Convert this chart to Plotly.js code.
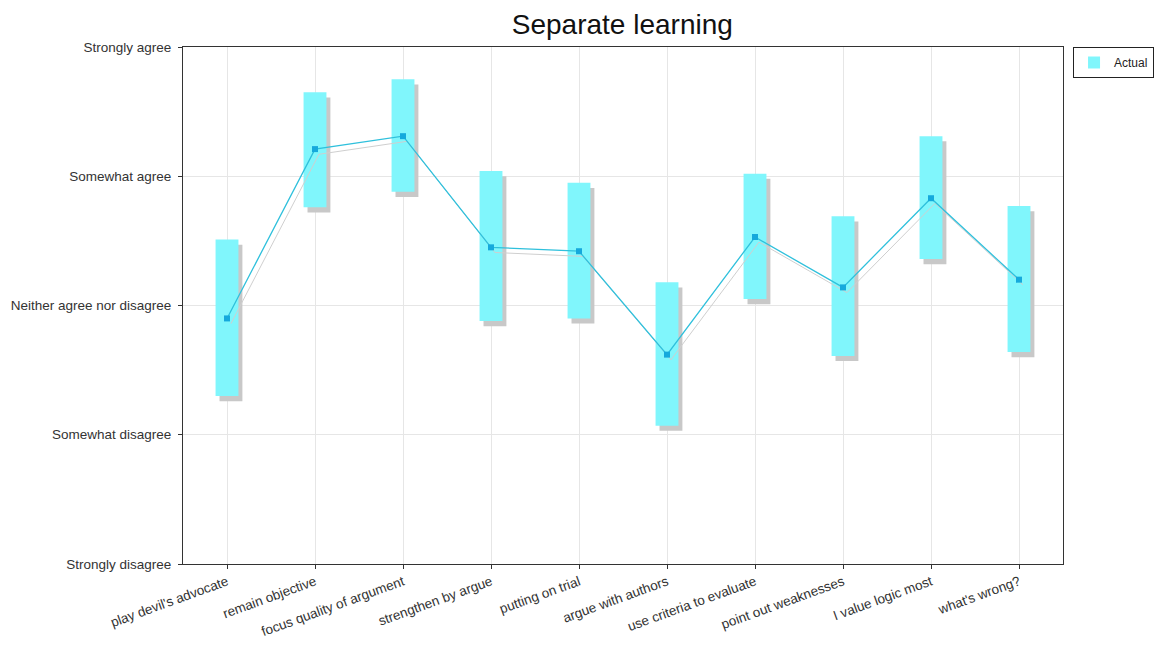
<!DOCTYPE html>
<html>
<head>
<meta charset="utf-8">
<script src="https://cdn.plot.ly/plotly-3.0.1.min.js"></script>
<style>html,body{margin:0;padding:0;background:#fff;}#chart{width:1161px;height:655px;}</style>
</head>
<body>
<div id="chart"></div>
<script>
// Data
var categories = ["play devil's advocate","remain objective","focus quality of argument","strengthen by argue","putting on trial","argue with authors","use criteria to evaluate","point out weaknesses","I value logic most","what's wrong?"];
var actual = [2.90, 4.21, 4.31, 3.45, 3.42, 2.62, 3.53, 3.14, 3.83, 3.20];
var rangeLow = [2.30, 3.76, 3.88, 2.88, 2.90, 2.07, 3.05, 2.61, 3.36, 2.64];
var rangeHigh = [3.51, 4.65, 4.75, 4.04, 3.95, 3.18, 4.02, 3.69, 4.31, 3.77];
var scaleValues = [1, 2, 3, 4, 5];
var scaleLabels = ["Strongly disagree","Somewhat disagree","Neither agree nor disagree","Somewhat agree","Strongly agree"];

var idx = categories.map(function(_, i){ return i; });
var span = rangeHigh.map(function(h, i){ return h - rangeLow[i]; });
// shadow offset (in data units) to mimic the drop shadow
var dx = 0.045, dy = -0.04;

var traces = [
  {type:'bar', x: idx.map(function(v){return v+dx;}), y: span, base: rangeLow.map(function(v){return v+dy;}),
   width:0.26, marker:{color:'#c8c8c8'}, showlegend:false, hoverinfo:'skip'},
  {type:'bar', x: idx, y: span, base: rangeLow, width:0.26,
   marker:{color:'#80f6fc'}, name:'Actual', showlegend:true},
  {type:'scatter', mode:'lines', x: idx.map(function(v){return v+dx;}), y: actual.map(function(v){return v+dy;}),
   line:{color:'#cfcfcf', width:1}, showlegend:false, hoverinfo:'skip'},
  {type:'scatter', mode:'lines+markers', x: idx, y: actual,
   line:{color:'#2fc0dc', width:1.3}, marker:{symbol:'square', size:6, color:'#15a9dc'},
   showlegend:false}
];

var layout = {
  width:1161, height:655,
  margin:{l:183, r:98, t:47, b:91, autoexpand:false},
  paper_bgcolor:'#fff', plot_bgcolor:'#fff',
  barmode:'overlay',
  font:{family:'Liberation Sans, Arial, sans-serif', size:13.5, color:'#333'},
  title:{text:'Separate learning', x:0.536, xanchor:'center', y:0.963, yanchor:'middle',
         font:{family:'Liberation Sans, Arial, sans-serif', size:28, color:'#111'}},
  xaxis:{range:[-0.5, 9.5], tickvals: idx, ticktext: categories, tickangle:-20,
         showgrid:true, gridcolor:'#e6e6e6', zeroline:false,
         showline:true, linecolor:'#333', linewidth:1, mirror:true,
         ticks:'outside', ticklen:4, tickcolor:'#333', fixedrange:true},
  yaxis:{range:[1,5], tickvals: scaleValues, ticktext: scaleLabels,
         showgrid:true, gridcolor:'#e6e6e6', zeroline:false,
         showline:true, linecolor:'#333', linewidth:1, mirror:true,
         ticks:'outside', ticklen:4, tickcolor:'#333', ticklabelstandoff:4},
  legend:{x:1.0114, xanchor:'left', y:1, yanchor:'top', bordercolor:'#222', borderwidth:1,
          bgcolor:'#fff', font:{size:12, color:'#222'}},
  showlegend:true
};

Plotly.newPlot('chart', traces, layout, {staticPlot:true});
</script>
</body>
</html>
